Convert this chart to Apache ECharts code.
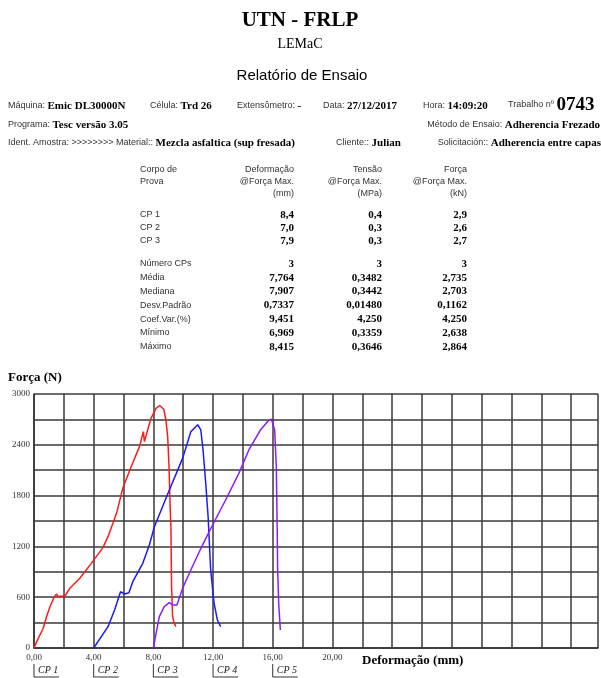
<!DOCTYPE html>
<html>
<head>
<meta charset="utf-8">
<script src="https://cdn.jsdelivr.net/npm/echarts@6/dist/echarts.min.js"></script>
<style>
html, body { margin: 0; padding: 0; background: #fff; }
#main { width: 601px; height: 678px; }
</style>
</head>
<body>
<div id="main"></div>
<script>
// ensaios CP - deformação crua (mm) e força (N); cada CP é deslocado no gráfico
var cpNames = ['CP 1', 'CP 2', 'CP 3', 'CP 4', 'CP 5'];
var cpOffsets = [0, 4, 8, 12, 16];
var cpColors = ['#ff1a1a', '#1a1aff', '#8c1aff'];

var cp1Curve = [[0, 0], [0.18, 75], [0.62, 233], [0.84, 370], [1.07, 488], [1.33, 594], [1.51, 640], [1.6, 610],
  [2.07, 614], [2.4, 705], [3.07, 823], [3.84, 1000], [4.6, 1180], [4.96, 1315], [5.29, 1473], [5.56, 1610],
  [5.95, 1886], [6.51, 2141], [7.07, 2378], [7.33, 2555], [7.4, 2437], [7.84, 2713], [8.18, 2831], [8.42, 2864],
  [8.7, 2820], [8.84, 2693], [8.96, 2496], [9.05, 2141], [9.12, 1700], [9.18, 1394], [9.22, 724], [9.29, 370],
  [9.4, 290], [9.51, 252]];
var cp2Curve = [[0, 0], [0.96, 252], [1.4, 449], [1.8, 665], [2.07, 638], [2.36, 653], [2.62, 783], [3.29, 1000],
  [3.73, 1216], [4.07, 1433], [5.07, 1866], [5.96, 2240], [6.51, 2555], [6.97, 2638], [7.18, 2575], [7.33, 2339],
  [7.51, 1945], [7.67, 1551], [7.84, 921], [8.07, 528], [8.29, 331], [8.51, 252]];
var cp3Curve = [[0, 0], [0.18, 173], [0.4, 370], [0.73, 488], [1.07, 535], [1.29, 508], [1.58, 508], [1.96, 705],
  [2.51, 921], [3.29, 1216], [3.96, 1450], [4.84, 1748], [5.73, 2063], [6.4, 2339], [7.18, 2575], [7.73, 2690],
  [7.91, 2703], [8.13, 2575], [8.24, 2141], [8.3, 1394], [8.33, 921], [8.4, 528], [8.51, 213]];

// tabela de resultados
var colHeaders = [['Deformação', '@Força Max.', '(mm)'], ['Tensão', '@Força Max.', '(MPa)'], ['Força', '@Força Max.', '(kN)']];
var cpRowNames = ['CP 1', 'CP 2', 'CP 3'];
var cpDef = ['8,4', '7,0', '7,9'];
var cpTensao = ['0,4', '0,3', '0,3'];
var cpForca = ['2,9', '2,6', '2,7'];
var statNames = ['Número CPs', 'Média', 'Mediana', 'Desv.Padrão', 'Coef.Var.(%)', 'Mínimo', 'Máximo'];
var statDef = ['3', '7,764', '7,907', '0,7337', '9,451', '6,969', '8,415'];
var statTensao = ['3', '0,3482', '0,3442', '0,01480', '4,250', '0,3359', '0,3646'];
var statForca = ['3', '2,735', '2,703', '0,1162', '4,250', '2,638', '2,864'];

var chart = echarts.init(document.getElementById('main'));

var SANS = '"Liberation Sans", Arial, sans-serif';
var SERIF = '"Liberation Serif", "Times New Roman", serif';
var rich = {
  l: { fontSize: 9, fontFamily: SANS, fill: '#333' },
  v: { fontSize: 11, fontFamily: SERIF, fontWeight: 'bold', fill: '#000' },
  n: { fontSize: 19, fontFamily: SERIF, fontWeight: 'bold', fill: '#000' }
};

function txt(text, x, y, font, align, fill) {
  return {
    type: 'text', x: x, y: y, silent: true,
    style: { text: text, font: font, fill: fill || '#000', align: align || 'left', textAlign: align || 'left', verticalAlign: 'middle', textVerticalAlign: 'middle' }
  };
}
function richTxt(text, x, y, align) {
  return {
    type: 'text', x: x, y: y, silent: true,
    style: { text: text, rich: rich, align: align || 'left', textAlign: align || 'left', verticalAlign: 'middle', textVerticalAlign: 'middle' }
  };
}

var graphics = [
  txt('UTN - FRLP', 300, 21, 'bold 21px ' + SERIF, 'center'),
  txt('LEMaC', 300, 44, '14px ' + SERIF, 'center'),
  txt('Relatório de Ensaio', 302, 76, '15px ' + SANS, 'center'),
  richTxt('{l|Máquina: }{v|Emic DL30000N}', 8, 106),
  richTxt('{l|Célula: }{v|Trd 26}', 150, 106),
  richTxt('{l|Extensômetro: }{v|-}', 237, 106),
  richTxt('{l|Data: }{v|27/12/2017}', 323, 106),
  richTxt('{l|Hora: }{v|14:09:20}', 423, 106),
  richTxt('{l|Trabalho nº }{n|0743}', 508, 105),
  richTxt('{l|Programa: }{v|Tesc versão 3.05}', 8, 125),
  richTxt('{l|Método de Ensaio: }{v|Adherencia Frezado}', 600, 125, 'right'),
  richTxt('{l|Ident. Amostra: >>>>>>>> Material:: }{v|Mezcla asfaltica (sup fresada)}', 8, 143),
  richTxt('{l|Cliente:: }{v|Julian}', 336, 143),
  richTxt('{l|Solicitación:: }{v|Adherencia entre capas}', 601, 143, 'right'),
  txt('Corpo de', 140, 170, '9px ' + SANS, 'left', '#333'),
  txt('Prova', 140, 182, '9px ' + SANS, 'left', '#333'),
  txt('Força (N)', 8, 378, 'bold 13px ' + SERIF),
  txt('Deformação (mm)', 362, 661, 'bold 13px ' + SERIF)
];

var colX = [294, 382, 467];
colHeaders.forEach(function (h, c) {
  h.forEach(function (line, i) {
    graphics.push(txt(line, colX[c], 170 + i * 12, '9px ' + SANS, 'right', '#333'));
  });
});
cpRowNames.forEach(function (name, i) {
  var y = 215 + i * 13;
  graphics.push(txt(name, 140, y, '9px ' + SANS, 'left', '#333'));
  [cpDef, cpTensao, cpForca].forEach(function (col, c) {
    graphics.push(txt(col[i], colX[c], y, 'bold 11px ' + SERIF, 'right'));
  });
});
statNames.forEach(function (name, i) {
  var y = 264 + i * 13.8;
  graphics.push(txt(name, 140, y, '9px ' + SANS, 'left', '#333'));
  [statDef, statTensao, statForca].forEach(function (col, c) {
    graphics.push(txt(col[i], colX[c], y, 'bold 11px ' + SERIF, 'right'));
  });
});

function shifted(curve, k) {
  return curve.map(function (p) { return [p[0] + cpOffsets[k], p[1]]; });
}

var series = [cp1Curve, cp2Curve, cp3Curve].map(function (curve, k) {
  return {
    name: cpNames[k],
    type: 'line',
    data: shifted(curve, k),
    showSymbol: false,
    smooth: false,
    lineStyle: { color: cpColors[k], width: 1.5 },
    itemStyle: { color: cpColors[k] },
    z: 3
  };
});

var option = {
  backgroundColor: '#fff',
  animation: false,
  grid: { left: 34, top: 394, right: 0, bottom: 30, containLabel: false },
  xAxis: {
    type: 'value', min: 0, max: 37.8, interval: 2,
    axisLine: { show: true, lineStyle: { color: '#333', width: 1.5 } },
    axisTick: { show: false },
    splitLine: { show: true, lineStyle: { color: '#3a3a3a', width: 1.5 } },
    axisLabel: {
      margin: 5, fontSize: 9, fontFamily: SERIF, color: '#333',
      formatter: function (v) {
        return (v % 4 === 0 && v <= 20) ? v.toFixed(2).replace('.', ',') : '';
      }
    }
  },
  yAxis: {
    type: 'value', min: 0, max: 3000, interval: 300,
    axisLine: { show: true, lineStyle: { color: '#333', width: 1.5 } },
    axisTick: { show: false },
    splitLine: { show: true, lineStyle: { color: '#3a3a3a', width: 1.5 } },
    axisLabel: {
      margin: 4, fontSize: 9, fontFamily: SERIF, color: '#333',
      formatter: function (v) { return v % 600 === 0 ? String(v) : ''; }
    }
  },
  series: series,
  graphic: graphics
};
chart.setOption(option);

// rótulos CP 1..CP 5 com colchete abaixo do eixo
var brackets = [];
cpNames.forEach(function (name, k) {
  var px = chart.convertToPixel({ gridIndex: 0 }, [cpOffsets[k], 0])[0];
  brackets.push({ type: 'line', silent: true, shape: { x1: px, y1: 664, x2: px, y2: 677 }, style: { stroke: '#333', lineWidth: 1 } });
  brackets.push({ type: 'line', silent: true, shape: { x1: px, y1: 677, x2: px + 25, y2: 677 }, style: { stroke: '#333', lineWidth: 1 } });
  brackets.push(txt(name, px + 4, 670, 'italic 10px ' + SERIF, 'left', '#222'));
});
chart.setOption({ graphic: graphics.concat(brackets) });
</script>
</body>
</html>
